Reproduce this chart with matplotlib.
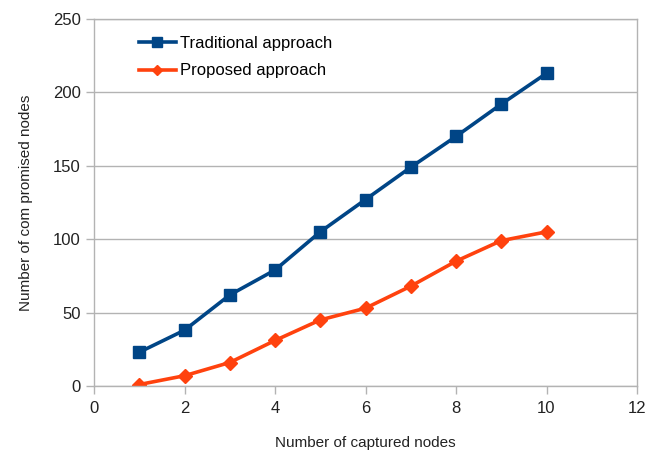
import matplotlib
matplotlib.use("Agg")
import matplotlib.pyplot as plt

captured = [1, 2, 3, 4, 5, 6, 7, 8, 9, 10]
traditional = [23, 38, 62, 79, 105, 127, 149, 170, 192, 213]
proposed = [1, 7, 16, 31, 45, 53, 68, 85, 99, 105]
xticks = [0, 2, 4, 6, 8, 10, 12]
yticks = [0, 50, 100, 150, 200, 250]

plt.rcParams['font.family'] = ['Liberation Sans', 'DejaVu Sans']

fig = plt.figure(figsize=(6.64, 4.5), dpi=100)
ax = fig.add_axes([94/664, 1-386/450, (637-94)/664, (386-19)/450])

grid_c = '#b3b3b3'
ax.set_xlim(0, 12)
ax.set_ylim(0, 250)
ax.set_xticks(xticks)
ax.set_yticks(yticks)
ax.yaxis.grid(True, color=grid_c, linewidth=1)
ax.set_axisbelow(True)
for s in ax.spines.values():
    s.set_color(grid_c)
    s.set_linewidth(1)
ax.tick_params(axis='both', colors=grid_c, labelcolor='#222222', labelsize=12,
               length=6, width=1)
ax.tick_params(axis='x', pad=5)

ax.plot(captured, traditional, color='#004586', linewidth=2.6, marker='s',
        markersize=9, label='Traditional approach')
ax.plot(captured, proposed, color='#ff420e', linewidth=2.6, marker='D',
        markersize=7, label='Proposed approach')

ax.set_xlabel('Number of captured nodes', fontsize=11, color='#222222', labelpad=14)
ax.set_ylabel('Number of com promised nodes', fontsize=11, color='#222222', labelpad=14)

leg = ax.legend(loc='upper left', bbox_to_anchor=(0.055, 0.995), frameon=False,
                fontsize=12, handlelength=2.2, handletextpad=0.25, labelspacing=0.75,
                markerscale=0.8)

fig.savefig('out.png', dpi=100)
